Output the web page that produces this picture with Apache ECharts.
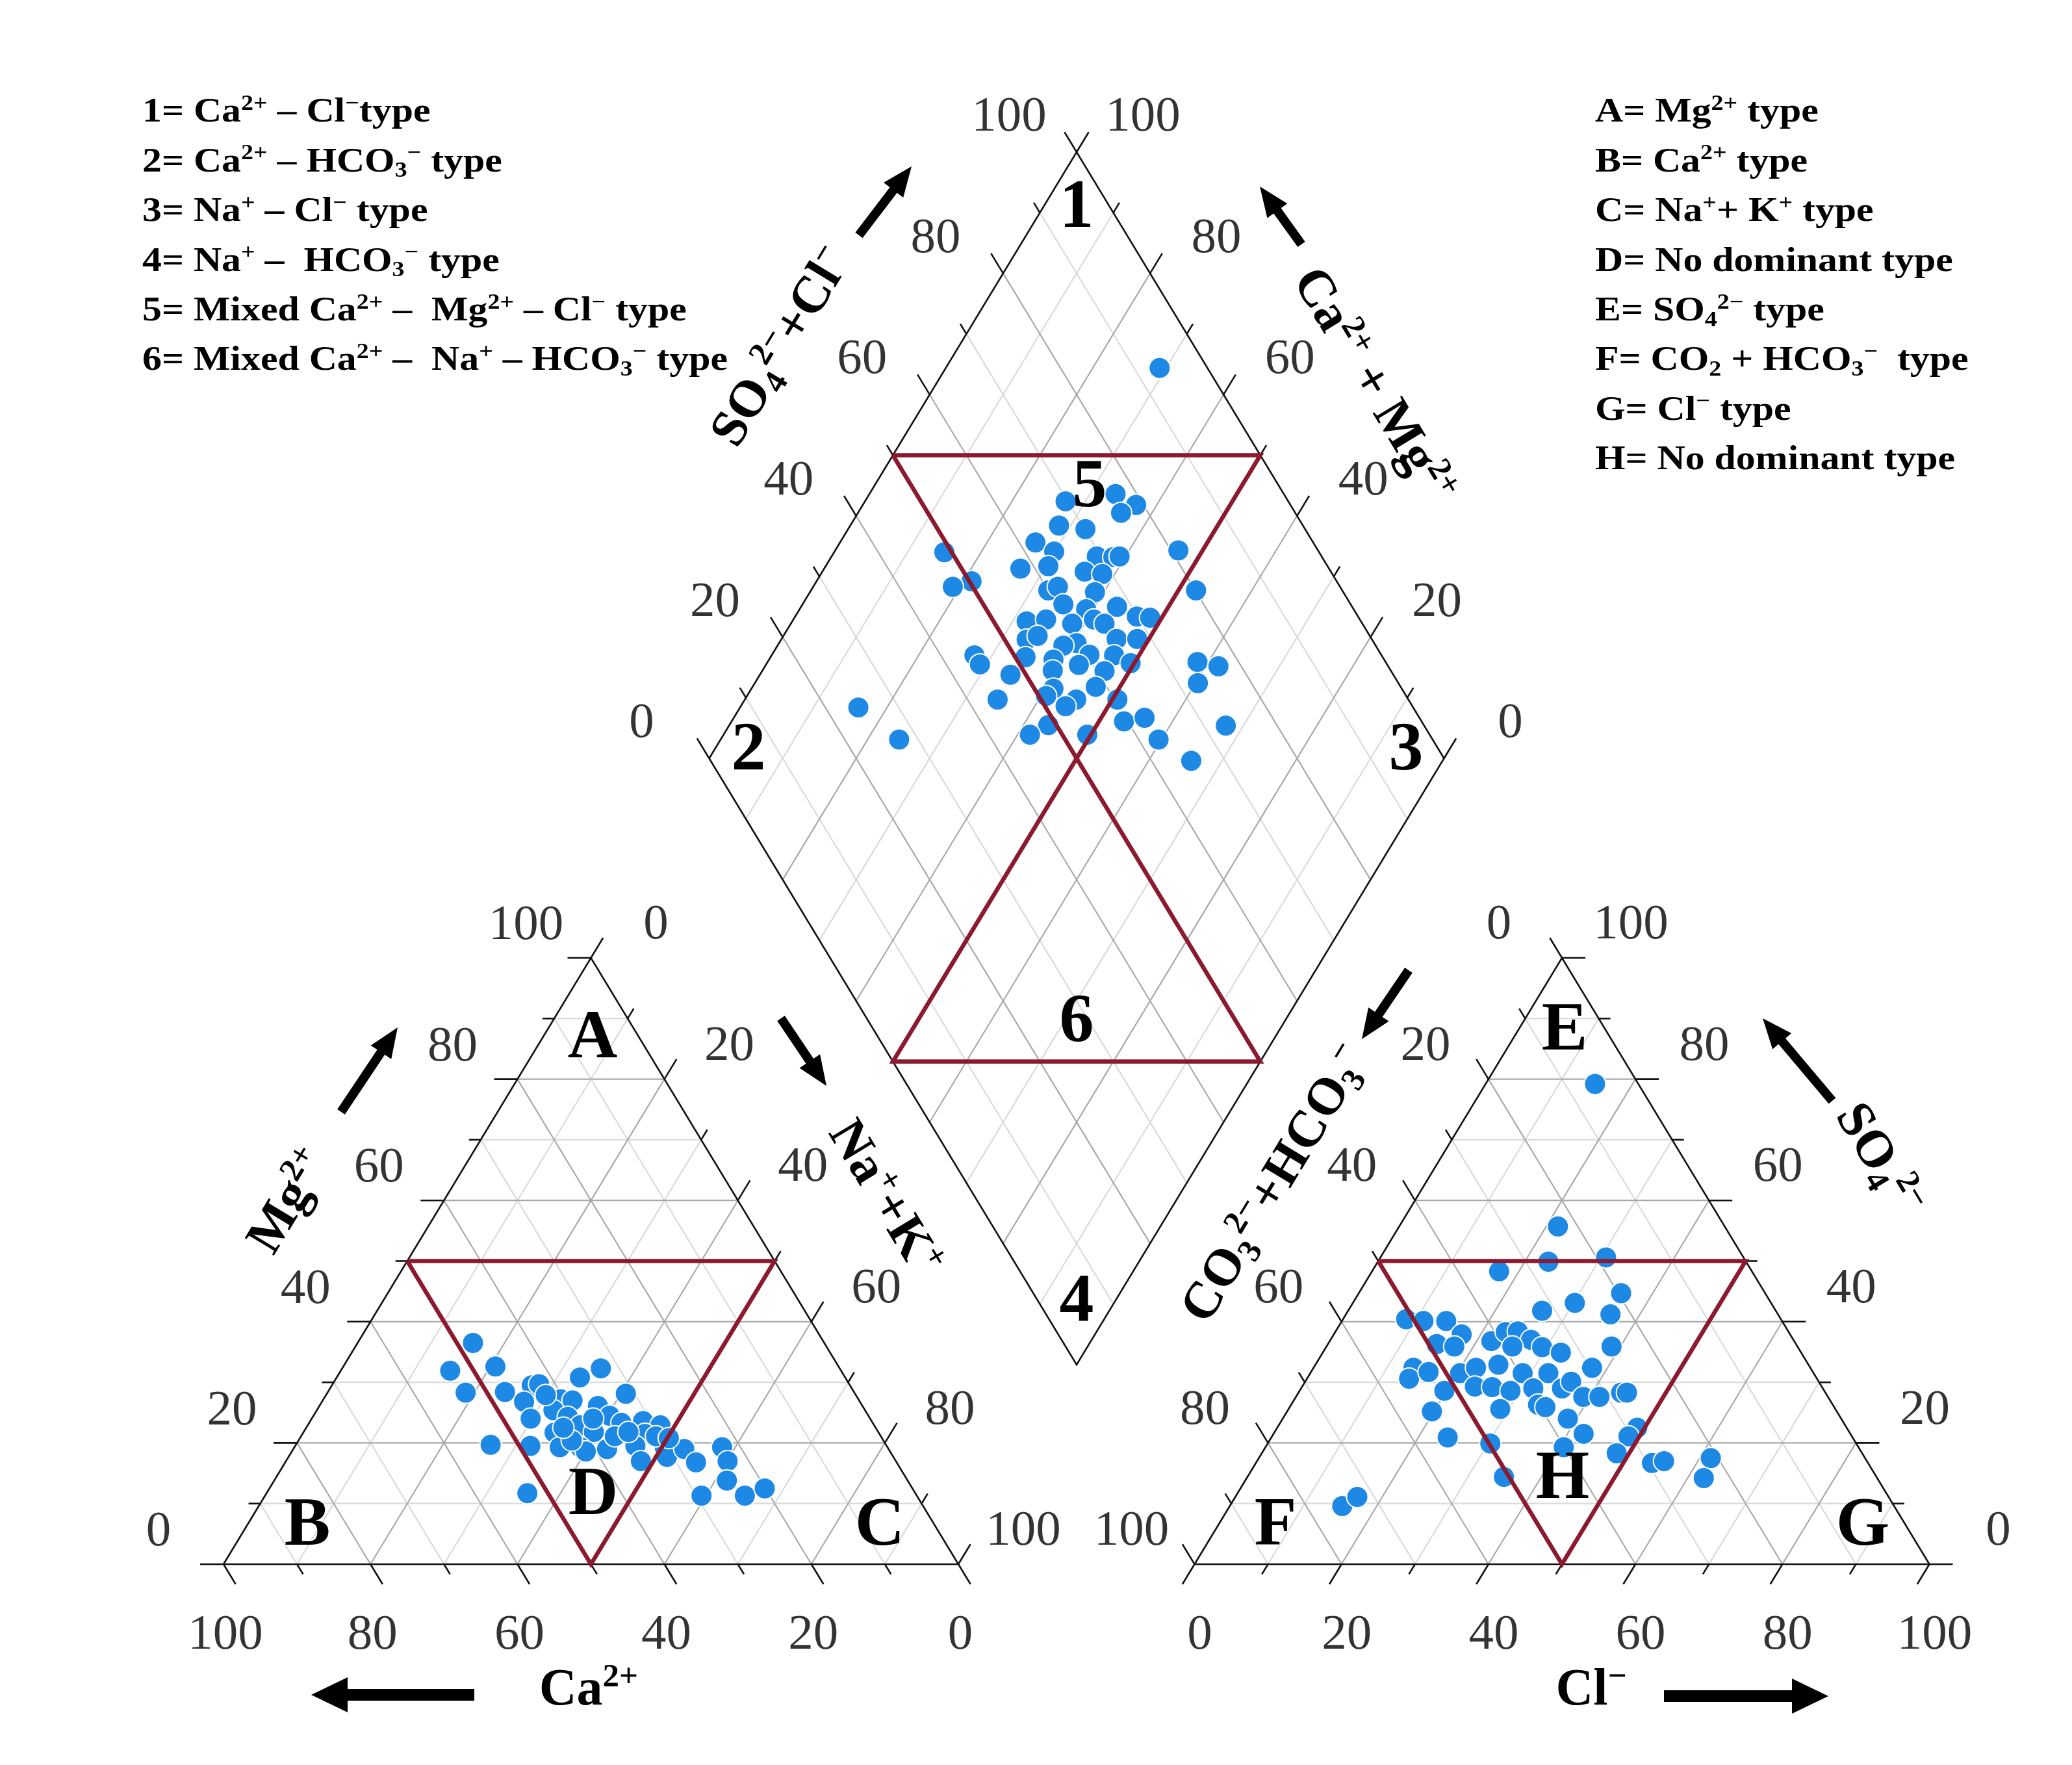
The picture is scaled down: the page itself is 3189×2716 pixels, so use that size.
<!DOCTYPE html>
<html><head><meta charset="utf-8">
<script src="https://cdn.jsdelivr.net/npm/echarts@6/dist/echarts.min.js"></script>
<style>html,body{margin:0;padding:0;background:#fff}#c{width:3189px;height:2716px}</style>
</head><body><div id="c"></div>
<script>
// ================= DATA (percent) =================
// Cation triangle: Ca2+ and Mg2+ (Na+ + K+ = 100 - Ca - Mg)
const cationCa = [47.8,53.2,46.7,52.9,47.5,43.3,45.7,42.2,36.1,32.5,40.5,39.0,42.4,46.2,31.2,36.0,35.2,41.0,44.1,40.0,38.7,34.2,31.1,29.1,31.9,53.8,48.5,44.6,41.8,41.4,38.3,34.2,34.7,30.3,30.8,27.8,27.3,22.5,22.9,24.6,29.3,23.4,20.1,52.8,42.4,36.2,30.6,29.0,42.2,37.7,34.0,42.5];
const cationMg = [36.5,31.9,32.6,28.3,28.4,29.5,26.8,29.7,30.8,32.3,27.2,27.0,25.4,24.0,28.1,26.1,24.5,24.3,21.7,22.9,21.8,23.3,23.6,22.9,21.5,19.7,19.5,19.3,19.3,18.6,19.0,19.5,17.0,19.3,17.7,19.0,16.8,19.3,17.0,13.8,11.3,11.3,12.5,11.7,20.4,21.1,21.1,20.8,27.9,24.0,21.8,22.5];
// Anion triangle: Cl- and SO4 2- (CO3 + HCO3 = 100 - Cl - SO4)
const anionCl  = [21.6,23.2,30.7,17.3,35.7,30.2,26.4,36.0,8.6,11.1,14.2,17.4,14.8,17.4,22.0,23.2,24.8,27.3,25.3,29.4,32.4,38.8,13.6,13.9,16.0,20.4,22.1,24.9,23.5,25.9,28.7,28.9,32.4,37.9,19.7,31.6,35.5,36.2,39.1,41.3,43.9,44.7,19.7,28.8,33.6,34.8,38.8,42.2,49.0,48.5,24.0,30.3,40.6,48.3,53.9,55.4,61.5,62.2,34.9,14.9,15.3,16.6];
const anionSO4 = [55.7,49.9,50.6,48.3,44.7,43.1,41.8,41.2,40.4,40.1,40.1,37.9,36.3,35.9,36.8,38.3,38.4,37.0,35.9,35.8,34.9,35.9,32.4,30.6,31.7,31.5,32.4,32.9,29.3,29.2,28.6,31.5,31.5,32.4,28.6,29.0,29.0,30.1,27.6,27.6,28.3,28.3,25.2,25.6,26.3,25.9,24.0,21.5,22.5,21.1,20.9,19.9,19.3,18.3,16.7,17.0,17.5,14.2,14.4,79.2,9.6,11.1];
// Diamond: SO4 + Cl (anion side) and Na + K (cation side)
const diamondAnion  = [69.7,77.1,79.0,76.3,66.8,70.1,62.2,64.0,49.0,81.0,58.0,62.0,69.4,71.6,72.5,66.5,68.7,50.3,47.3,80.1,60.0,61.6,66.2,60.9,63.6,68.0,69.9,71.6,54.5,57.3,60.5,63.8,64.9,53.0,54.8,59.5,57.5,65.3,68.1,51.4,44.6,44.6,55.0,60.3,63.6,58.0,54.0,61.0,65.2,74.4,76.9,72.7,47.9,58.5,52.6,51.0,54.8,52.8,60.4,44.1,48.9,45.6,53.4,59.5,62.6,62.7,73.0,65.4,93.5,24.5,27.4];
const diamondCation = [27.3,33.5,37.2,35.8,28.4,32.3,26.6,29.9,15.0,46.7,26.7,30.3,36.1,38.4,39.2,35.7,38.3,21.1,19.0,52.4,32.3,33.3,38.8,35.5,39.0,43.0,46.5,48.4,31.9,34.4,38.3,40.9,42.7,33.4,34.6,40.5,38.9,45.6,48.4,34.7,27.6,29.1,38.7,43.2,46.6,42.6,39.5,46.6,49.5,58.5,61.7,60.3,34.1,46.7,41.1,40.7,45.1,44.2,50.7,34.4,43.4,41.7,49.5,53.4,55.9,59.6,67.6,65.8,29.1,16.1,24.3];
// Axis ticks
const tickSteps  = [0,10,20,30,40,50,60,70,80,90,100];
const tickLabels = ['0','20','40','60','80','100'];
// Classification zones (percent)
const triZone = [[50,0,50],[0,50,50],[50,50,0],[50,0,50]];           // [left, right, top]
const diaZoneUpper = [[50,0],[100,50],[50,50],[50,0]];                // [SO4+Cl, Na+K]
const diaZoneLower = [[50,50],[0,50],[50,100],[50,50]];

// ================= LAYOUT =================
const SIDE = 1131, HGT = 933;
const L_TRI = {x: 344, y: 2407};
const R_TRI = {x: 1838.5, y: 2407};
const DIA = {x: 1091.5, y: 1167};
const FONT = 'Liberation Serif';
const EL = Math.hypot(SIDE/2, HGT);
const dUR = [SIDE/2/EL, -HGT/EL], dUL = [-SIDE/2/EL, -HGT/EL], dDR = [SIDE/2/EL, HGT/EL], dDL = [-SIDE/2/EL, HGT/EL];

function triPt(o, wl, wr, wt){ return [o.x + (wr + wt/2)*SIDE, o.y - wt*HGT]; }
function diaPt(s, t){ return [DIA.x + (s + t)*SIDE/2, DIA.y + (t - s)*HGT]; }

const gridLight = [], gridDark = [], frame = [], zones = [], tickLabelData = [];
function seg(arr, a, b){ arr.push({coords: [a, b]}); }

function triGrid(o){
  for (let k = 1; k <= 9; k++){
    const f = k/10, arr = k % 2 === 0 ? gridDark : gridLight;
    seg(arr, triPt(o,1-f,0,f), triPt(o,0,1-f,f));
    seg(arr, triPt(o,f,1-f,0), triPt(o,f,0,1-f));
    seg(arr, triPt(o,1-f,f,0), triPt(o,0,f,1-f));
  }
  frame.push({coords: [triPt(o,1,0,0), triPt(o,0,1,0), triPt(o,0,0,1), triPt(o,1,0,0)]});
  zones.push({coords: triZone.map(z => triPt(o, z[0]/100, z[1]/100, z[2]/100))});
}
triGrid(L_TRI); triGrid(R_TRI);
for (let k = 1; k <= 9; k++){
  const f = k/10, arr = k % 2 === 0 ? gridDark : gridLight;
  seg(arr, diaPt(f,0), diaPt(f,1));
  seg(arr, diaPt(0,f), diaPt(1,f));
}
frame.push({coords: [diaPt(0,0), diaPt(1,0), diaPt(1,1), diaPt(0,1), diaPt(0,0)]});
zones.push({coords: diaZoneUpper.map(z => diaPt(z[0]/100, z[1]/100))});
zones.push({coords: diaZoneLower.map(z => diaPt(z[0]/100, z[1]/100))});

// ticks + labels
function axis(ptFn, dir, off){
  tickSteps.forEach(v => {
    const p = ptFn(v), len = v % 20 === 0 ? 36 : 18;
    frame.push({coords: [p, [p[0] + dir[0]*len, p[1] + dir[1]*len]]});
  });
  tickLabels.forEach(lbl => {
    const p = ptFn(Number(lbl));
    tickLabelData.push({name: lbl, value: [p[0] + off[0], p[1] + off[1]]});
  });
}
axis(m => triPt(L_TRI, 1-m/100, 0, m/100), [-1,0], [-100,-49]);   // Mg
axis(n => triPt(L_TRI, 0, n/100, 1-n/100), dUR, [100,-50]);       // Na+K
axis(c => triPt(L_TRI, c/100, 1-c/100, 0), dDR, [3,110]);         // Ca
axis(c => triPt(R_TRI, 1-c/100, c/100, 0), dDL, [8,110]);         // Cl
axis(h => triPt(R_TRI, h/100, 0, 1-h/100), dUL, [-97,-50]);       // CO3+HCO3
axis(s => triPt(R_TRI, 0, 1-s/100, s/100), [1,0], [106,-50]);     // SO4
axis(s => diaPt(s/100, 0), dUL, [-104,-53]);                      // SO4+Cl
axis(c => diaPt(1, 1-c/100), dUR, [102,-53]);                     // Ca+Mg

const cationPts = cationCa.map((ca, i) => { const mg = cationMg[i]; return triPt(L_TRI, ca/100, (100-ca-mg)/100, mg/100); });
const anionPts = anionCl.map((cl, i) => { const so4 = anionSO4[i]; return triPt(R_TRI, (100-cl-so4)/100, cl/100, so4/100); });
const diamondPts = diamondAnion.map((s, i) => diaPt(s/100, diamondCation[i]/100));

// ================= TEXT & ARROWS =================
function richFor(fs, bold){
  const w = bold ? 'bold' : 'normal';
  return {
    sup: {fontSize: Math.round(fs*0.64), fontFamily: FONT, fontWeight: w, verticalAlign: 'top', fill: '#000'},
    sub: {fontSize: Math.round(fs*0.64), fontFamily: FONT, fontWeight: w, verticalAlign: 'bottom', fill: '#000'}
  };
}
function txt(text, x, y, fs, opts){
  opts = opts || {};
  return {
    type: 'text', x: x, y: y, z: 100, silent: true,
    rotation: (opts.rot || 0) * Math.PI/180,
    scaleX: opts.sx || 1,
    style: {
      text: text, x: 0, y: 0, fill: '#000',
      fontSize: fs, fontFamily: FONT, fontWeight: opts.bold === false ? 'normal' : 'bold',
      lineHeight: Math.round(fs*1.15),
      align: opts.align || 'center', textAlign: opts.align || 'center',
      verticalAlign: 'middle', textVerticalAlign: 'middle',
      rich: richFor(fs, opts.bold !== false)
    }
  };
}
function arrow(tail, tip, sw, hw, hl){
  const dx = tip[0]-tail[0], dy = tip[1]-tail[1], len = Math.hypot(dx, dy);
  const ux = dx/len, uy = dy/len, nx = -uy, ny = ux;
  const bx = tip[0]-ux*hl, by = tip[1]-uy*hl;
  return {type: 'polygon', z: 100, silent: true, shape: {points: [
    [tail[0]+nx*sw/2, tail[1]+ny*sw/2], [bx+nx*sw/2, by+ny*sw/2], [bx+nx*hw/2, by+ny*hw/2], tip,
    [bx-nx*hw/2, by-ny*hw/2], [bx-nx*sw/2, by-ny*sw/2], [tail[0]-nx*sw/2, tail[1]-ny*sw/2]]},
    style: {fill: '#000'}};
}

const legendLeft = [
  '1= Ca{sup|2+} – Cl{sup|−}type',
  '2= Ca{sup|2+} – HCO{sub|3}{sup|−} type',
  '3= Na{sup|+} – Cl{sup|−} type',
  '4= Na{sup|+} –  HCO{sub|3}{sup|−} type',
  '5= Mixed Ca{sup|2+} –  Mg{sup|2+} – Cl{sup|−} type',
  '6= Mixed Ca{sup|2+} –  Na{sup|+} – HCO{sub|3}{sup|−} type'
];
const legendRight = [
  'A= Mg{sup|2+} type',
  'B= Ca{sup|2+} type',
  'C= Na{sup|+}+ K{sup|+} type',
  'D= No dominant type',
  'E= SO{sub|4}{sup|2−} type',
  'F= CO{sub|2} + HCO{sub|3}{sup|−}  type',
  'G= Cl{sup|−} type',
  'H= No dominant type'
];
const regionLabels = [['1',1657,322],['2',1152,1157],['3',2164,1157],['4',1657,2006],['5',1677,752],['6',1657,1575],
  ['A',912,1600],['B',473,2350],['C',1354,2350],['D',913,2303],['E',2408,1588],['F',1963,2350],['G',2867,2350],['H',2405,2278]];

const graphics = [];
legendLeft.forEach((t, i) => graphics.push(txt(t, 219, 174 + 76.4*i, 52, {align: 'left', sx: 1.15})));
legendRight.forEach((t, i) => graphics.push(txt(t, 2455, 174 + 76.4*i, 52, {align: 'left', sx: 1.15})));
regionLabels.forEach(r => graphics.push(txt(r[0], r[1], r[2], 106)));
graphics.push(txt('SO{sub|4}{sup|2−}+Cl{sup|−}', 1205, 535, 80, {rot: 58.8}));
graphics.push(txt('Ca{sup|2+} + Mg{sup|2+}', 2112, 595, 80, {rot: -58.8}));
graphics.push(txt('Mg{sup|2+}', 447, 1850, 80, {rot: 58.8}));
graphics.push(txt('Na{sup|+}+K{sup|+}', 1360, 1845, 80, {rot: -58.8}));
graphics.push(txt('CO{sub|3}{sup|2−}+HCO{sub|3}{sup|−}', 1965, 1823, 80, {rot: 58.8}));
graphics.push(txt('SO{sub|4}{sup|2−}', 2890, 1786, 80, {rot: -58.8}));
graphics.push(txt('Ca{sup|2+}', 906, 2602, 80));
graphics.push(txt('Cl{sup|−}', 2449, 2602, 80));
graphics.push(arrow([1322,362], [1403,256], 14, 38, 46));
graphics.push(arrow([2003,376], [1939,287], 14, 38, 46));
graphics.push(arrow([525,1711], [612,1581], 14, 38, 46));
graphics.push(arrow([1202,1567], [1272,1671], 14, 38, 46));
graphics.push(arrow([2168,1493], [2096,1599], 14, 38, 46));
graphics.push(arrow([2820,1694], [2713,1567], 14, 38, 46));
graphics.push(arrow([730,2608], [479,2608], 18, 54, 56));
graphics.push(arrow([2561,2610], [2814,2610], 18, 54, 56));

// ================= CHART =================
const chart = echarts.init(document.getElementById('c'), null, {renderer: 'canvas'});
const pointStyle = {color: '#1E88E5', borderColor: '#ffffff', borderWidth: 2, opacity: 1};
chart.setOption({
  animation: false,
  backgroundColor: '#ffffff',
  grid: {left: 0, right: 0, top: 0, bottom: 0},
  xAxis: {type: 'value', min: 0, max: 3189, show: false},
  yAxis: {type: 'value', min: 0, max: 2716, inverse: true, show: false},
  series: [
    {type: 'lines', coordinateSystem: 'cartesian2d', polyline: true, silent: true, z: 1, data: gridLight, lineStyle: {color: '#dadada', width: 2.2, opacity: 1}},
    {type: 'lines', coordinateSystem: 'cartesian2d', polyline: true, silent: true, z: 1, data: gridDark, lineStyle: {color: '#a9a9a9', width: 2.2, opacity: 1}},
    {type: 'lines', coordinateSystem: 'cartesian2d', polyline: true, silent: true, z: 2, data: frame, lineStyle: {color: '#111', width: 2.6, opacity: 1}},
    {type: 'scatter', name: 'cations', data: cationPts, symbolSize: 33, itemStyle: pointStyle, silent: true, z: 3},
    {type: 'scatter', name: 'anions', data: anionPts, symbolSize: 33, itemStyle: pointStyle, silent: true, z: 3},
    {type: 'scatter', name: 'diamond', data: diamondPts, symbolSize: 33, itemStyle: pointStyle, silent: true, z: 3},
    {type: 'lines', coordinateSystem: 'cartesian2d', polyline: true, silent: true, z: 4, data: zones, lineStyle: {color: '#8B1A2E', width: 6.5, opacity: 1}},
    {type: 'scatter', name: 'ticklabels', data: tickLabelData, symbolSize: 1, silent: true, z: 5,
      itemStyle: {color: 'rgba(0,0,0,0)'},
      label: {show: true, position: 'inside', formatter: '{b}', fontFamily: FONT, fontSize: 77, color: '#000'}}
  ],
  graphic: graphics
});
</script></body></html>
